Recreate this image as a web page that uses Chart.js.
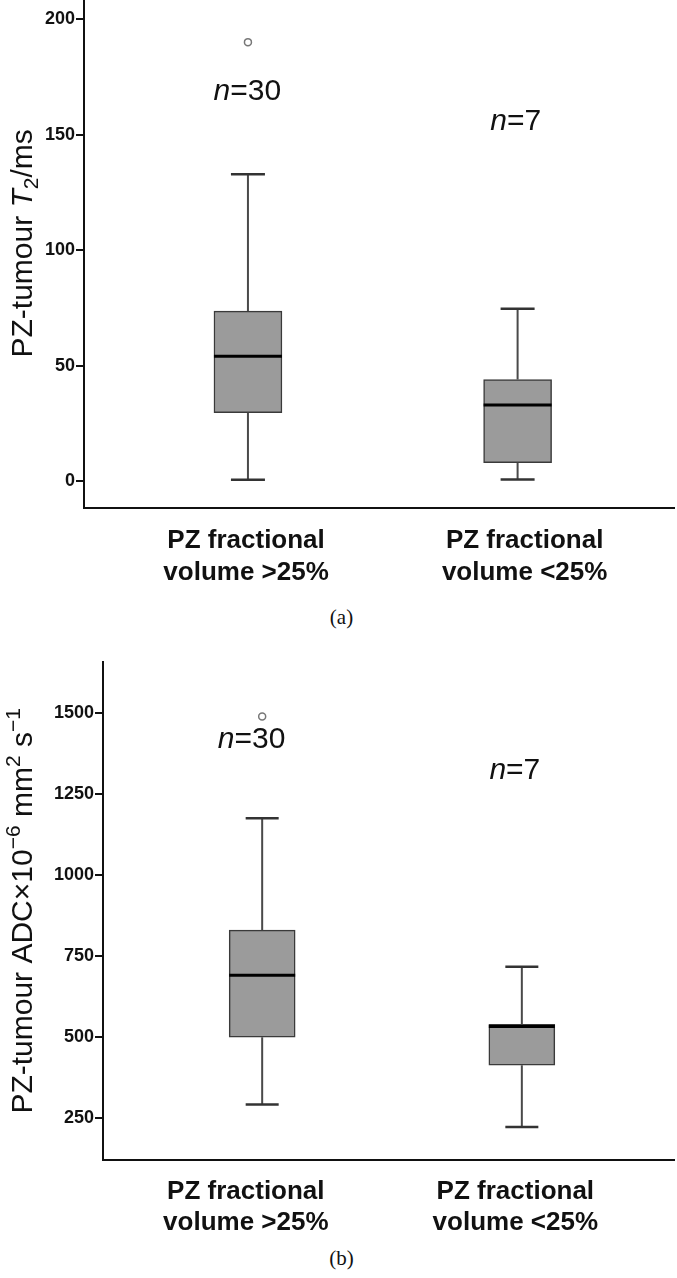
<!DOCTYPE html>
<html>
<head>
<meta charset="utf-8">
<script src="https://cdn.jsdelivr.net/npm/chart.js@4/dist/chart.umd.min.js"></script>
<style>
  body { margin: 0; background: #fff; width: 677px; height: 1278px; position: relative; overflow: hidden; }
  canvas { position: absolute; left: 0; }
  .cap { position: absolute; left: 3px; width: 677px; text-align: center; font: 21px "Liberation Serif", "Times New Roman", serif; color: #111; }
</style>
</head>
<body>
<canvas id="chartA" width="677" height="600" style="top:0"></canvas>
<canvas id="chartB" width="677" height="600" style="top:640px"></canvas>
<div class="cap" style="top:605px">(a)</div>
<div class="cap" style="top:1246px">(b)</div>
<script>
// groups along the x axis
const GROUPS = [['PZ fractional', 'volume >25%'], ['PZ fractional', 'volume <25%']];
const N_TEXT = ['=30', '=7'];

// (a) PZ-tumour T2 (ms)
const T2_MIN = [0.6, 0.7];
const T2_Q1 = [29.6, 8.0];
const T2_MEDIAN = [54.1, 33.0];
const T2_Q3 = [73.6, 44.0];
const T2_MAX = [132.8, 74.6];
const T2_OUTLIERS = [190];
const T2_OUTLIER_GROUP = [0];
const T2_TICKS = [0, 50, 100, 150, 200];

// (b) PZ-tumour ADC x10^-6 mm2/s
const ADC_MIN = [293, 224];
const ADC_Q1 = [500, 414];
const ADC_MEDIAN = [691, 533];
const ADC_Q3 = [830, 540];
const ADC_MAX = [1175, 717];
const ADC_OUTLIERS = [1488];
const ADC_OUTLIER_GROUP = [0];
const ADC_TICKS = [250, 500, 750, 1000, 1250, 1500];

const FONT = '"Liberation Sans", Arial, sans-serif';
const fnt = (size, style) => `${style || ''} ${size}px ${FONT}`.trim();

function makeBoxChart(id, c) {
  const boxes = c.q1.map((q, i) => ({ x: i, y: [q, c.q3[i]] }));
  const outliers = c.outliers.map((v, i) => ({ x: c.outlierGroup[i], y: v }));

  const boxPlugin = {
    id: 'boxWhiskers',
    afterDatasetsDraw(chart) {
      const { ctx } = chart;
      const ys = chart.scales.y;
      const meta = chart.getDatasetMeta(0);
      meta.data.forEach((el, i) => {
        const x = el.x, half = el.width / 2, cap = el.width / 4;
        ctx.save();
        ctx.strokeStyle = '#4a4a4a';
        ctx.lineWidth = 2;
        ctx.beginPath();
        ctx.moveTo(x, ys.getPixelForValue(c.q3[i]));
        ctx.lineTo(x, ys.getPixelForValue(c.max[i]));
        ctx.moveTo(x, ys.getPixelForValue(c.q1[i]));
        ctx.lineTo(x, ys.getPixelForValue(c.min[i]));
        ctx.stroke();
        ctx.strokeStyle = '#333';
        ctx.lineWidth = 2.5;
        ctx.beginPath();
        ctx.moveTo(x - cap, ys.getPixelForValue(c.max[i]));
        ctx.lineTo(x + cap, ys.getPixelForValue(c.max[i]));
        ctx.moveTo(x - cap, ys.getPixelForValue(c.min[i]));
        ctx.lineTo(x + cap, ys.getPixelForValue(c.min[i]));
        ctx.stroke();
        ctx.strokeStyle = '#000';
        ctx.lineWidth = 3;
        ctx.beginPath();
        ctx.moveTo(x - half, ys.getPixelForValue(c.median[i]));
        ctx.lineTo(x + half, ys.getPixelForValue(c.median[i]));
        ctx.stroke();
        ctx.restore();
      });
    }
  };

  const textPlugin = {
    id: 'extraText',
    afterDraw(chart) {
      const { ctx, chartArea } = chart;
      const xs = chart.scales.x, ys = chart.scales.y;
      ctx.save();
      ctx.fillStyle = '#111';
      ctx.textBaseline = 'alphabetic';
      ctx.textAlign = 'left';
      // n= labels
      c.nY.forEach((v, i) => {
        const px = xs.getPixelForValue(c.nX[i]), py = ys.getPixelForValue(v);
        ctx.font = fnt(30, 'italic');
        const w1 = ctx.measureText('n').width;
        ctx.font = fnt(30);
        const w2 = ctx.measureText(N_TEXT[i]).width;
        const x0 = px - (w1 + w2) / 2;
        ctx.font = fnt(30, 'italic');
        ctx.fillText('n', x0, py);
        ctx.font = fnt(30);
        ctx.fillText(N_TEXT[i], x0 + w1, py);
      });
      // rotated y title with sub/superscripts
      const widths = c.title.map(p => {
        ctx.font = fnt(p.sup || p.sub ? 21 : 30, p.italic ? 'italic' : '');
        return ctx.measureText(p.t).width;
      });
      const total = widths.reduce((a, b) => a + b, 0);
      ctx.translate(c.titleX, (chartArea.top + chartArea.bottom) / 2 + c.titleDy);
      ctx.rotate(-Math.PI / 2);
      let x = -total / 2;
      c.title.forEach((p, i) => {
        ctx.font = fnt(p.sup || p.sub ? 21 : 30, p.italic ? 'italic' : '');
        ctx.fillText(p.t, x, p.sup ? -12 : p.sub ? 6 : 0);
        x += widths[i];
      });
      ctx.restore();
    }
  };

  return new Chart(document.getElementById(id), {
    type: 'bar',
    data: {
      datasets: [{
        data: boxes,
        backgroundColor: '#9b9b9b',
        borderColor: '#3a3a3a',
        borderWidth: 1.5,
        borderSkipped: false,
        barThickness: c.boxWidth
      }, {
        type: 'line',
        data: outliers,
        showLine: false,
        pointRadius: 3.5,
        pointBackgroundColor: '#fff',
        pointBorderColor: '#777',
        pointBorderWidth: 1.5
      }]
    },
    options: {
      responsive: false,
      animation: false,
      events: [],
      layout: { autoPadding: false, padding: { top: c.padTop, right: 3, left: 0, bottom: 0 } },
      plugins: { legend: { display: false }, tooltip: { enabled: false }, title: { display: false } },
      scales: {
        x: {
          type: 'linear',
          min: c.xMin,
          max: c.xMax,
          offset: false,
          bounds: 'data',
          afterBuildTicks: s => { s.ticks = c.labelPos.map(v => ({ value: v })); },
          afterFit: s => { s.height = c.xAxisHeight; s.paddingLeft = 0; s.paddingRight = 0; },
          grid: { display: false, drawTicks: false },
          border: { display: true, color: '#111', width: 2 },
          ticks: {
            callback: (v, i) => GROUPS[i],
            autoSkip: false,
            maxRotation: 0,
            padding: c.labelPad,
            color: '#111',
            font: { family: FONT, size: 26, weight: 'bold', lineHeight: 1.2 }
          }
        },
        y: {
          type: 'linear',
          min: c.yMin,
          max: c.yMax,
          bounds: 'data',
          afterBuildTicks: s => { s.ticks = c.ticks.map(v => ({ value: v })); },
          afterFit: s => { s.width = c.axisLeft; s.paddingTop = 0; s.paddingBottom = 0; },
          grid: { display: true, drawOnChartArea: false, drawTicks: true, tickLength: 8, color: '#111', lineWidth: 2 },
          border: { display: true, color: '#111', width: 2 },
          ticks: {
            callback: v => String(v),
            padding: 1,
            color: '#111',
            font: { family: FONT, size: 18, weight: 'bold' }
          }
        }
      }
    },
    plugins: [boxPlugin, textPlugin]
  });
}

makeBoxChart('chartA', {
  min: T2_MIN, q1: T2_Q1, median: T2_MEDIAN, q3: T2_Q3, max: T2_MAX,
  outliers: T2_OUTLIERS, outlierGroup: T2_OUTLIER_GROUP, ticks: T2_TICKS,
  yMin: -11.5, yMax: 207.8, xMin: -0.608, xMax: 1.58,
  labelPos: [-0.007, 1.026], nX: [-0.002, 0.993], nY: [165, 152],
  boxWidth: 68, axisLeft: 84, padTop: 1, xAxisHeight: 92.3, labelPad: 18,
  titleX: 32, titleDy: -11,
  title: [{ t: 'PZ-tumour ' }, { t: 'T', italic: true }, { t: '2', sub: true }, { t: '/ms' }]
});

makeBoxChart('chartB', {
  min: ADC_MIN, q1: ADC_Q1, median: ADC_MEDIAN, q3: ADC_Q3, max: ADC_MAX,
  outliers: ADC_OUTLIERS, outlierGroup: ADC_OUTLIER_GROUP, ticks: ADC_TICKS,
  yMin: 122, yMax: 1657, xMin: -0.613, xMax: 1.586,
  labelPos: [-0.063, 0.975], nX: [-0.041, 0.973], nY: [1391, 1296],
  boxWidth: 66, axisLeft: 103, padTop: 21.7, xAxisHeight: 80, labelPad: 16,
  titleX: 32, titleDy: 0,
  title: [{ t: 'PZ-tumour ADC\u00d710' }, { t: '\u22126', sup: true }, { t: ' mm' }, { t: '2', sup: true },
          { t: ' s' }, { t: '\u22121', sup: true }]
});
</script>
</body>
</html>
